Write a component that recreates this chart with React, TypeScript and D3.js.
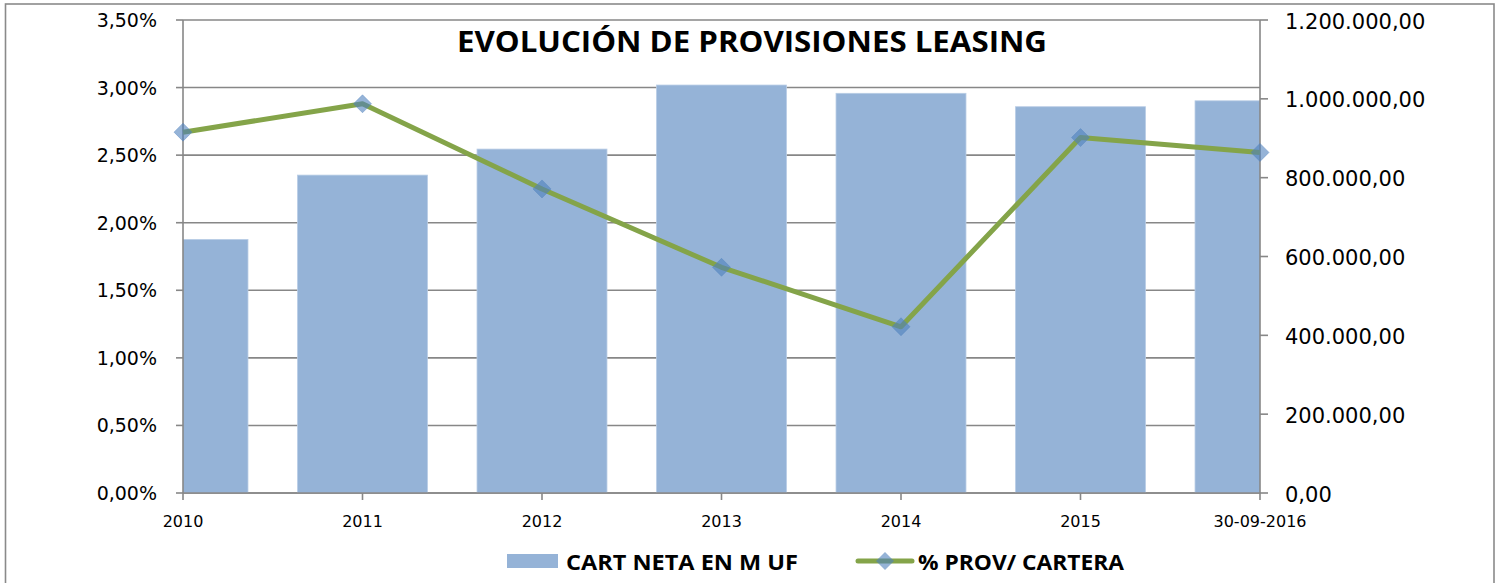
import React from "react";
import * as d3 from "d3";

const categories = ["2010", "2011", "2012", "2013", "2014", "2015", "30-09-2016"];
const carteraNeta = [643300, 806500, 872500, 1035000, 1014000, 980000, 995000];
const provPct = [2.67, 2.88, 2.25, 1.67, 1.23, 2.63, 2.52];
const leftTicks = [0, 0.5, 1, 1.5, 2, 2.5, 3, 3.5];
const rightTicks = [0, 200000, 400000, 600000, 800000, 1000000, 1200000];
const title = "EVOLUCIÓN DE PROVISIONES LEASING";
const legendBar = "CART NETA EN M UF";
const legendLine = "% PROV/ CARTERA";

const W = 1504;
const H = 583;
const plot = { left: 183, right: 1260, top: 20, bottom: 493 };
const FONT = "'Open Sans', 'Noto Sans', sans-serif";
const AXFONT = "'DejaVu Sans', sans-serif";
const GRID = "#878787";
const BAR = "#95B3D7";
const LINE = "#84A449";
const MARK = "#4F81BD";

const fmtPct = (v: number) => v.toFixed(2).replace(".", ",") + "%";
const fmtNum = (v: number) => {
  const s = Math.round(v).toString().replace(/\B(?=(\d{3})+(?!\d))/g, ".");
  return s + ",00";
};

export default function App() {
  const x = d3.scalePoint<string>().domain(categories).range([plot.left, plot.right]).padding(0);
  const yL = d3.scaleLinear().domain([0, 3.5]).range([plot.bottom, plot.top]);
  const yR = d3.scaleLinear().domain([0, 1200000]).range([plot.bottom, plot.top]);
  const barW = x.step() * 0.724;
  const line = d3
    .line<number>()
    .x((_, i) => x(categories[i]) as number)
    .y((d) => yL(d));
  const dm = 9;

  return (
    <svg
      width={W}
      height={H}
      style={{ position: "absolute", left: 0, top: 0, background: "#fff" }}
      fontFamily={FONT}
    >
      <defs>
        <clipPath id="plotclip">
          <rect x={plot.left} y={plot.top - 2} width={plot.right - plot.left} height={plot.bottom - plot.top + 2} />
        </clipPath>
      </defs>
      <rect x={5.5} y={4} width={1488.5} height={640} fill="#fff" stroke="#8a8a8a" strokeWidth={1.6} />

      {/* gridlines */}
      {leftTicks.map((t) => (
        <line key={"g" + t} x1={plot.left} x2={plot.right} y1={yL(t)} y2={yL(t)} stroke={GRID} strokeWidth={1.6} />
      ))}

      {/* bars */}
      <g clipPath="url(#plotclip)">
        {carteraNeta.map((v, i) => (
          <rect
            key={"b" + i}
            x={(x(categories[i]) as number) - barW / 2}
            y={yR(v)}
            width={barW}
            height={plot.bottom - yR(v)}
            fill={BAR}
            stroke="#b9cde5"
            strokeWidth={0.8}
          />
        ))}
      </g>

      {/* axes */}
      <line x1={plot.left} x2={plot.left} y1={plot.top} y2={plot.bottom} stroke={GRID} strokeWidth={1.6} />
      <line x1={plot.right} x2={plot.right} y1={plot.top} y2={plot.bottom} stroke={GRID} strokeWidth={1.6} />
      <line x1={plot.left} x2={plot.right} y1={plot.bottom} y2={plot.bottom} stroke={GRID} strokeWidth={1.6} />
      <g fontFamily={AXFONT}>
        {leftTicks.map((t) => (
          <g key={"lt" + t}>
            <line x1={plot.left - 7} x2={plot.left} y1={yL(t)} y2={yL(t)} stroke={GRID} strokeWidth={1.6} />
            <text x={157} y={yL(t) + 7} textAnchor="end" fontSize={19} fill="#000">
              {fmtPct(t)}
            </text>
          </g>
        ))}
        {rightTicks.map((t) => (
          <g key={"rt" + t}>
            <line x1={plot.right} x2={plot.right + 8} y1={yR(t)} y2={yR(t)} stroke={GRID} strokeWidth={1.6} />
            <text x={1285} y={yR(t) + 8.5} textAnchor="start" fontSize={21} fill="#000">
              {fmtNum(t)}
            </text>
          </g>
        ))}
        {categories.map((c) => (
          <g key={"xt" + c}>
            <line x1={x(c)} x2={x(c)} y1={plot.bottom} y2={plot.bottom + 7} stroke={GRID} strokeWidth={1.6} />
            <text x={x(c)} y={527} textAnchor="middle" fontSize={16} fill="#000">
              {c}
            </text>
          </g>
        ))}
      </g>

      {/* line series */}
      <path d={line(provPct) || ""} fill="none" stroke={LINE} strokeWidth={5} strokeLinejoin="round" />
      {provPct.map((v, i) => {
        const cx = x(categories[i]) as number;
        const cy = yL(v);
        return (
          <path
            key={"m" + i}
            d={`M${cx},${cy - dm}L${cx + dm},${cy}L${cx},${cy + dm}L${cx - dm},${cy}Z`}
            fill={MARK}
            fillOpacity={0.6}
            stroke={MARK}
            strokeOpacity={0.4}
            strokeWidth={1}
          />
        );
      })}

      {/* title */}
      <text x={752} y={52} textAnchor="middle" fontSize={28} fontWeight="bold" fill="#000" textLength={590} lengthAdjust="spacingAndGlyphs">
        {title}
      </text>

      {/* legend */}
      <rect x={507} y={554} width={51} height={14} fill={BAR} />
      <text x={566} y={570} fontSize={21} fontWeight="bold" fill="#000" textLength={232} lengthAdjust="spacingAndGlyphs">
        {legendBar}
      </text>
      <line x1={858} x2={912} y1={561} y2={561} stroke={LINE} strokeWidth={5} strokeLinecap="round" />
      <path d={`M885,${561 - dm}L${885 + dm},561L885,${561 + dm}L${885 - dm},561Z`} fill={MARK} fillOpacity={0.6} />
      <text x={918} y={570} fontSize={21} fontWeight="bold" fill="#000" textLength={206} lengthAdjust="spacingAndGlyphs">
        {legendLine}
      </text>
    </svg>
  );
}
